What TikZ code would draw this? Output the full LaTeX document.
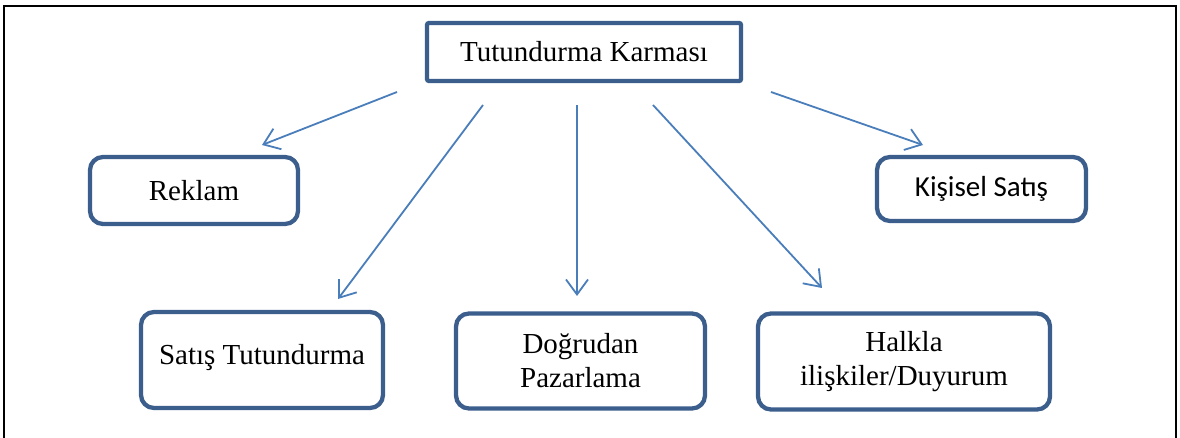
\documentclass[tikz,border=0pt]{standalone}
\usepackage{fontspec}
\setmainfont{Liberation Serif}
\newfontfamily\calibrilike{Carlito}
\usetikzlibrary{arrows.meta}
\definecolor{boxblue}{RGB}{59,94,140}
\definecolor{arrowblue}{RGB}{74,126,187}
\begin{document}
\begin{tikzpicture}[x=1pt,y=-1pt,
  box/.style={draw=boxblue, line width=4.3pt, rounded corners=13pt, fill=white,
    inner sep=0pt, align=center, font=\fontsize{29}{34}\selectfont},
  link/.style={draw=arrowblue, line width=1.8pt,
    -{Straight Barb[length=15pt,width=22pt]}},
  frame/.style={draw=black, line width=2pt}]
  \useasboundingbox (0,0) rectangle (1180,438);
  % outer frame, open at the bottom
  \draw[frame] (4,440) -- (4,6) -- (1176,6) -- (1176,440);

  % boxes
  \node[box, rounded corners=2pt, minimum width=314pt, minimum height=58pt]
    (top) at (584,52) {Tutundurma Karması};
  \node[box, minimum width=208pt, minimum height=67pt]
    (reklam) at (194,190.5) {Reklam};
  \node[box, minimum width=209pt, minimum height=64pt,
    font=\fontsize{29}{34}\selectfont\calibrilike]
    (kisisel) at (981.5,189) {Kişisel Satış};
  \node[box, minimum width=242pt, minimum height=96pt]
    (satis) at (262,360) {\raisebox{11pt}{Satış Tutundurma}};
  \node[box, minimum width=249pt, minimum height=95pt]
    (dogrudan) at (580.5,361) {Doğrudan\\Pazarlama};
  \node[box, minimum width=292pt, minimum height=96pt]
    (halkla) at (904,361.5) {Halkla\\ilişkiler/Duyurum};

  % connector ends
  \coordinate (fromR) at (397,92);   \coordinate (toR) at (262,145);
  \coordinate (fromS) at (483,105);  \coordinate (toS) at (338,299);
  \coordinate (fromD) at (577,105);  \coordinate (toD) at (577,296);
  \coordinate (fromH) at (653,105);  \coordinate (toH) at (822,288);
  \coordinate (fromK) at (771,92);   \coordinate (toK) at (923,145);

  \draw[link] (fromR) -- (toR);
  \draw[link] (fromS) -- (toS);
  \draw[link] (fromD) -- (toD);
  \draw[link] (fromH) -- (toH);
  \draw[link] (fromK) -- (toK);
\end{tikzpicture}
\end{document}
